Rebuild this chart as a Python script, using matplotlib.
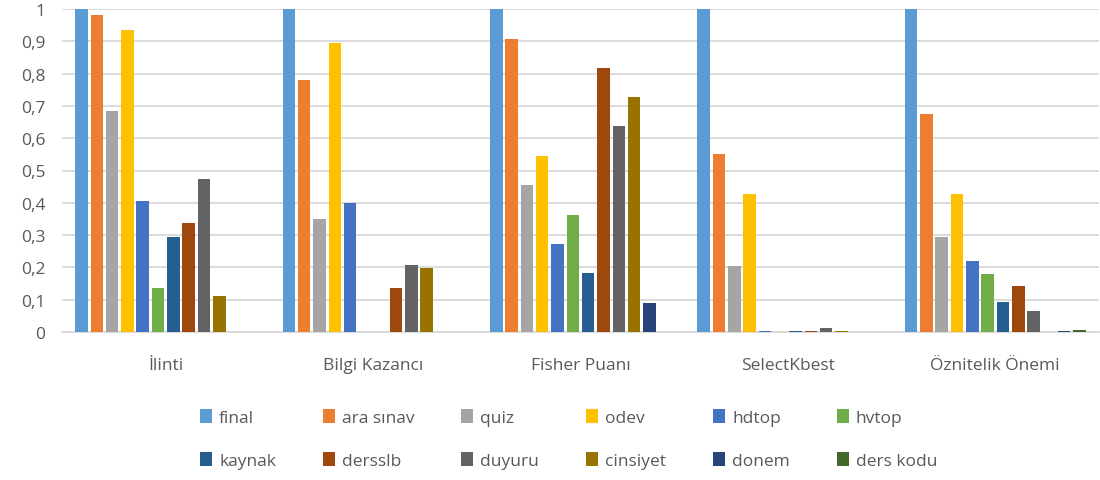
import numpy as np
import matplotlib
matplotlib.use("Agg")
import matplotlib.pyplot as plt
from matplotlib.ticker import FuncFormatter

# methods on the x axis
methods = ["İlinti", "Bilgi Kazancı", "Fisher Puanı", "SelectKbest", "Öznitelik Önemi"]

# one list per feature, values in the order of methods
final = [1.0, 1.0, 1.0, 1.0, 1.0]
ara_sinav = [0.98, 0.779, 0.908, 0.551, 0.675]
quiz = [0.685, 0.351, 0.454, 0.204, 0.295]
odev = [0.934, 0.896, 0.545, 0.427, 0.428]
hdtop = [0.405, 0.399, 0.272, 0.002, 0.219]
hvtop = [0.136, 0.0, 0.363, 0.0, 0.18]
kaynak = [0.293, 0.0, 0.183, 0.003, 0.093]
dersslb = [0.336, 0.135, 0.818, 0.002, 0.141]
duyuru = [0.473, 0.207, 0.637, 0.012, 0.064]
cinsiyet = [0.11, 0.199, 0.727, 0.004, 0.0]
donem = [0.0, 0.0, 0.091, 0.0, 0.002]
ders_kodu = [0.0, 0.0, 0.0, 0.0, 0.006]

features = ["final", "ara sınav", "quiz", "odev", "hdtop", "hvtop",
            "kaynak", "dersslb", "duyuru", "cinsiyet", "donem", "ders kodu"]
series = [final, ara_sinav, quiz, odev, hdtop, hvtop,
          kaynak, dersslb, duyuru, cinsiyet, donem, ders_kodu]
colors = ["#5B9BD5", "#ED7D31", "#A5A5A5", "#FFC000", "#4472C4", "#70AD47",
          "#255E91", "#9E480E", "#636363", "#997300", "#264478", "#43682B"]

plt.rcParams['font.family'] = ['Open Sans', 'DejaVu Sans']
text_col = "#595959"

fig = plt.figure(figsize=(11, 4.81), dpi=100)
ax = fig.add_axes([62 / 1100, 1 - 333 / 481, 1037 / 1100, 323 / 481])

x = np.arange(len(methods))
slot = 0.886 / len(series)
bars = []
for i, (name, vals, c) in enumerate(zip(features, series, colors)):
    pos = x - 0.443 + slot * (i + 0.5)
    bars.append(ax.bar(pos, vals, width=slot * 0.82, color=c, label=name, zorder=3))

ax.set_xlim(-0.5, len(methods) - 0.5)
ax.set_ylim(0, 1)
ax.set_yticks(np.arange(0, 1.01, 0.1))
ax.yaxis.set_major_formatter(FuncFormatter(
    lambda v, p: "0" if v < 1e-9 else ("1" if abs(v - 1) < 1e-9 else ("%.1f" % v).replace(".", ","))))
ax.set_xticks(x)
ax.set_xticklabels(methods)
ax.grid(axis="y", color="#D9D9D9", linewidth=1.3, zorder=0)
for s in ["top", "right", "left"]:
    ax.spines[s].set_visible(False)
ax.spines["bottom"].set_color("#D9D9D9")
ax.spines["bottom"].set_linewidth(1.3)
ax.tick_params(axis="both", length=0, colors=text_col, labelsize=12.5)
ax.tick_params(axis="x", pad=18)
ax.tick_params(axis="y", pad=12)

# legend fills column by column, so interleave to get row-major order
order = [k for j in range(6) for k in (j, j + 6)]
fig.legend([bars[k] for k in order], [features[k] for k in order],
           loc="center", bbox_to_anchor=(0.517, 1 - 440 / 481), ncol=6, frameon=False,
           fontsize=12.5, labelcolor=text_col, handlelength=0.7, handleheight=0.9,
           handletextpad=0.4, columnspacing=2.7, labelspacing=1.5)

fig.savefig("out.png", dpi=100)
